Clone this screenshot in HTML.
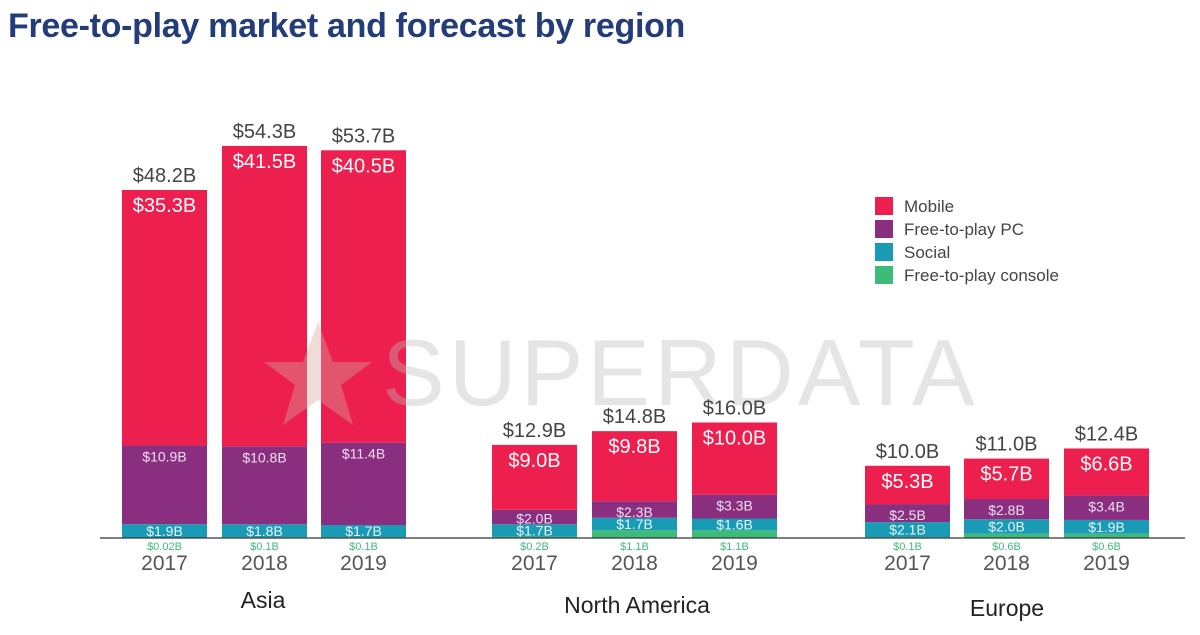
<!DOCTYPE html>
<html><head><meta charset="utf-8">
<style>
body{margin:0;background:#fff;width:1200px;height:635px;overflow:hidden;font-family:"Liberation Sans",sans-serif;}
#title{position:absolute;left:8px;top:7px;font-size:34px;font-weight:bold;color:#233d7a;letter-spacing:-0.3px;}
svg{position:absolute;left:0;top:0;}
</style></head><body>
<div id="title">Free-to-play market and forecast by region</div>
<svg id="chart" width="1200" height="635"></svg>
<script>
const regions=["Asia","North America","Europe"];
const years=["2017","2018","2019"];
const totals=[48.2,54.3,53.7,12.9,14.8,16.0,10.0,11.0,12.4];
const mobile=[35.3,41.5,40.5,9.0,9.8,10.0,5.3,5.7,6.6];
const pc=[10.9,10.8,11.4,2.0,2.3,3.3,2.5,2.8,3.4];
const social=[1.9,1.8,1.7,1.7,1.7,1.6,2.1,2.0,1.9];
const consoleV=[0.02,0.1,0.1,0.2,1.1,1.1,0.1,0.6,0.6];
const consoleLbl=["$0.02B","$0.1B","$0.1B","$0.2B","$1.1B","$1.1B","$0.1B","$0.6B","$0.6B"];
const barX=[122,222,321,492,592,692,865,964,1064];
const BW=85, BASE=538, SC=7.22;
const y=v=>BASE-v*SC;
const C={mobile:"#ec1f4e",pc:"#8a2f80",social:"#1a9bb5",console:"#3dbb7a"};
const s=document.getElementById('chart');
const NS="http://www.w3.org/2000/svg";
function el(t,a,txt){const e=document.createElementNS(NS,t);for(const k in a)e.setAttribute(k,a[k]);if(txt!==undefined)e.textContent=txt;s.appendChild(e);return e;}
for(let i=0;i<9;i++){
  const x=barX[i];
  let b=0;
  const segs=[["console",consoleV[i]],["social",social[i]],["pc",pc[i]],["mobile",mobile[i]]];
  segs.forEach(([k,v])=>{
    let top=(k==="mobile")?totals[i]:b+v;
    const r=el('rect',{x:x,y:y(top),width:BW,height:Math.max(0,(top-b)*SC),fill:C[k]});
    
    
    b=top;
  });
}
const st=el('polygon',{points:"318,322 333,362 372,362 341,385 353,425 318,400 283,425 295,385 264,362 303,362",fill:'#d8a8a0','fill-opacity':0.4});


const wm=el('text',{x:382,y:405,'font-size':94,fill:'#bdb8b8','fill-opacity':0.38,'letter-spacing':'4'},'SUPERDATA');


for(let i=0;i<9;i++){
  const x=barX[i],cx=x+BW/2;
  const b1=consoleV[i],b2=b1+social[i],b3=b2+pc[i];
  const t=el('text',{x:cx,y:y(totals[i])-8,'text-anchor':'middle','font-size':20,fill:'#444'},'$'+totals[i].toFixed(1)+'B');
  
  
  const m=el('text',{x:cx,y:y(totals[i])+22,'text-anchor':'middle','font-size':20,fill:'#fff'},'$'+mobile[i].toFixed(1)+'B');
  
  
  const p=el('text',{x:cx,y:Math.min(y(b3)+16,y(b2)-1),'text-anchor':'middle','font-size':14,fill:'#f0e0f0'},'$'+pc[i].toFixed(1)+'B');
  
  
  const so=el('text',{x:cx,y:y((b1+b2)/2)+5,'text-anchor':'middle','font-size':14,fill:'#e8f6fa'},'$'+social[i].toFixed(1)+'B');
  
  
  const co=el('text',{x:cx,y:BASE+12,'text-anchor':'middle','font-size':11,fill:'#3dbb7a'},consoleLbl[i]);
  
  
  const yr=el('text',{x:cx,y:570,'text-anchor':'middle','font-size':21,fill:'#555'},years[i%3]);
  
  
}
const ax=el('line',{x1:100,y1:BASE,x2:1185,y2:BASE,stroke:'#333','stroke-width':1.2});


const rx=[263,637,1007],ry=[608,613,616];
regions.forEach((r,i)=>{
  const t=el('text',{x:rx[i],y:ry[i],'text-anchor':'middle','font-size':23,fill:'#222'},r);
  
  
});
const lg=[["Mobile",C.mobile],["Free-to-play PC",C.pc],["Social",C.social],["Free-to-play console",C.console]];
lg.forEach(([n,c],i)=>{
  const r=el('rect',{x:875,y:197+i*23,width:18,height:18,fill:c});
  
  
  const t=el('text',{x:904,y:212+i*23,'font-size':17,fill:'#444'},n);
  
  
});
</script>
</body></html>
